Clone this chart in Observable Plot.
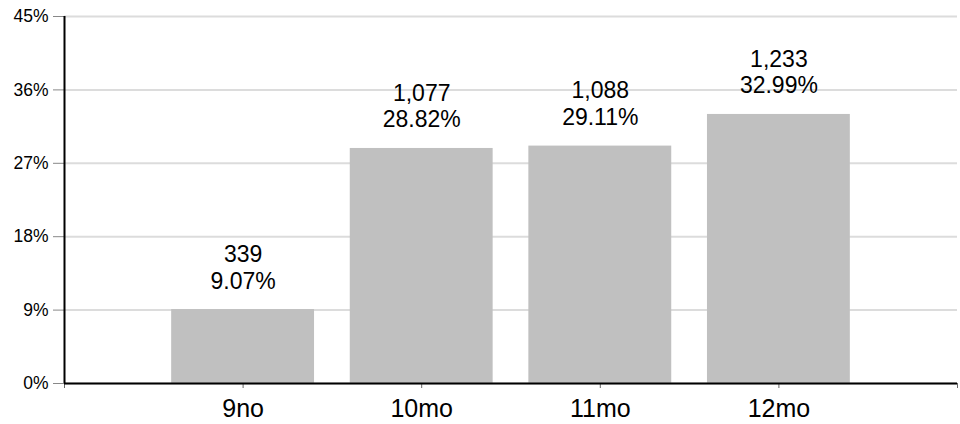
<!DOCTYPE html>
<html>
<head>
<meta charset="utf-8">
<script src="https://cdn.jsdelivr.net/npm/d3@7"></script>
<script src="https://cdn.jsdelivr.net/npm/@observablehq/plot@0.6"></script>
<style>
  html, body { margin: 0; padding: 0; background: #fff; }
  #chart { width: 960px; height: 424px; }
</style>
</head>
<body>
<div id="chart"></div>
<script>
const categories = ["9no", "10mo", "11mo", "12mo"];
const counts = [339, 1077, 1088, 1233];
const shares = [9.07, 28.82, 29.11, 32.99];
const yTicks = [0, 9, 18, 27, 36, 45];
const xTicks = [0, 1, 2, 3, 4, 5];

const data = categories.map((c, i) => ({pos: i + 1, label: c, count: counts[i], share: shares[i]}));
const fmt = d3.format(",");

const chart = Plot.plot({
  width: 960,
  height: 424,
  marginLeft: 64,
  marginRight: 3,
  marginTop: 16,
  marginBottom: 41,
  style: {fontFamily: "'Liberation Sans', Arial, sans-serif", background: "#fff", color: "#000"},
  x: {type: "linear", domain: [0, 5]},
  y: {domain: [0, 45]},
  marks: [
    Plot.gridY(yTicks, {stroke: "#dcdcdc", strokeOpacity: 1, strokeWidth: 2}),
    Plot.rectY(data, {x1: d => d.pos - 0.4, x2: d => d.pos + 0.4, y: "share", fill: "#c0c0c0"}),
    Plot.text(data, {
      x: "pos", y: "share",
      text: d => `${fmt(d.count)}\n${d.share.toFixed(2)}%`,
      lineAnchor: "bottom", lineHeight: 1.17, dy: -21, fontSize: 23, fill: "#000"
    }),
    Plot.axisY({ticks: yTicks, tickFormat: () => "", tickSize: 11, stroke: "#888", label: null}),
    Plot.axisX({ticks: xTicks, tickFormat: () => "", tickSize: 5, stroke: "#666", label: null}),
    Plot.text(yTicks, {x: 0, y: d => d, text: d => d + "%", textAnchor: "end", dx: -16, fontSize: 17.5, fill: "#000", fontFamily: "Arial, 'Liberation Sans', sans-serif"}),
    Plot.text(data, {x: "pos", y: 0, text: "label", lineAnchor: "top", dy: 16, fontSize: 25, fill: "#000"}),
    Plot.ruleX([0], {stroke: "#000", strokeWidth: 2}),
    Plot.ruleY([0], {stroke: "#000", strokeWidth: 2})
  ]
});
document.getElementById("chart").appendChild(chart);
</script>
</body>
</html>
